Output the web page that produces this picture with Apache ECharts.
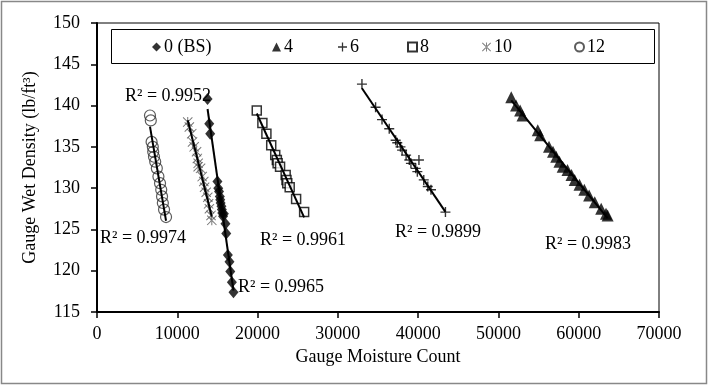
<!DOCTYPE html>
<html>
<head>
<meta charset="utf-8">
<script src="https://cdn.jsdelivr.net/npm/echarts@6/dist/echarts.min.js"></script>
<style>
  html, body { margin: 0; padding: 0; background: #fff; }
  #chart { width: 708px; height: 385px; }
</style>
</head>
<body>
<div id="chart"></div>
<script>
// moisture count (x) and wet density (y) per series
const bsX = [13.77, 13.98, 14.1, 15.0, 15.1, 15.2, 15.3, 15.35, 15.4, 15.5, 15.55, 15.6, 15.7, 15.8, 16.0, 16.1, 16.3, 16.5, 16.6, 16.8, 17.0].map(v => v * 1000)
const bsY = [140.8, 137.8, 136.6, 130.8, 130.0, 129.6, 129.0, 128.6, 128.2, 127.8, 127.4, 127.0, 126.6, 126.9, 125.7, 124.5, 121.9, 121.1, 119.9, 118.6, 117.4]

const s4X = [51.6, 52.2, 52.7, 53.0, 54.9, 55.2, 56.3, 56.8, 57.2, 57.6, 58.0, 58.6, 59.1, 59.5, 60.1, 60.7, 61.3, 62.0, 62.8, 63.4, 63.6].map(v => v * 1000)
const s4Y = [141.0, 140.0, 139.4, 138.8, 137.0, 136.4, 135.0, 134.4, 133.8, 133.2, 132.6, 132.2, 131.6, 131.0, 130.4, 129.8, 129.1, 128.3, 127.5, 126.9, 126.7]

const s6X = [33.0, 34.7, 35.5, 36.4, 37.2, 37.4, 37.8, 38.0, 38.5, 38.9, 39.1, 40.1, 39.7, 39.9, 40.7, 41.2, 41.6, 43.4].map(v => v * 1000)
const s6Y = [142.6, 139.8, 138.3, 137.2, 135.8, 135.5, 135.0, 134.6, 134.0, 133.4, 133.0, 133.4, 132.4, 132.0, 131.0, 130.2, 129.8, 127.1]

const s8X = [19.9, 20.6, 21.1, 21.7, 22.2, 22.4, 22.5, 22.8, 23.5, 23.6, 23.7, 24.0, 24.8, 25.8].map(v => v * 1000)
const s8Y = [139.4, 137.9, 136.6, 135.2, 134.0, 133.4, 133.0, 132.6, 131.6, 131.0, 130.6, 130.1, 128.7, 127.1]

const s10X = [11.3, 11.5, 11.8, 11.9, 12.1, 12.4, 12.5, 12.6, 12.9, 12.6, 13.1, 13.3, 13.4, 13.6, 13.8, 13.9, 14.0, 14.2, 14.3].map(v => v * 1000)
const s10Y = [138.0, 137.4, 136.6, 135.6, 135.0, 134.4, 133.6, 133.0, 132.4, 132.6, 131.4, 130.8, 130.1, 129.5, 128.9, 128.1, 127.5, 126.7, 126.1]

const s12X = [6.6, 6.7, 6.8, 6.95, 7.0, 7.1, 7.25, 7.45, 7.65, 7.85, 8.0, 8.1, 8.2, 8.35, 8.6].map(v => v * 1000)
const s12Y = [138.8, 138.2, 135.6, 135.0, 134.4, 133.8, 133.2, 132.4, 131.4, 130.6, 129.8, 129.0, 128.2, 127.4, 126.5]

const seriesNames = ['0 (BS)', '4', '6', '8', '10', '12']
const r2Labels = ['R\u00b2 = 0.9952', 'R\u00b2 = 0.9983', 'R\u00b2 = 0.9899', 'R\u00b2 = 0.9961', 'R\u00b2 = 0.9974', 'R\u00b2 = 0.9965']

const FONT = '"Liberation Serif", "Times New Roman", serif'

const plusPath = 'path://M4.3,0H5.7V10H4.3Z M0,4.3H10V5.7H0Z'
const starPath = 'path://M4.5,0H5.5V10H4.5Z M0,0.7L0.7,0L10,9.3L9.3,10Z M10,0.7L9.3,0L0,9.3L0.7,10Z'

function zip(xs, ys) {
  return xs.map((x, i) => [x, ys[i]])
}

// least-squares trendline from min x to max x, like the spreadsheet does
function trend(xs, ys) {
  const n = xs.length
  const mx = xs.reduce((a, b) => a + b, 0) / n
  const my = ys.reduce((a, b) => a + b, 0) / n
  let sxy = 0
  let sxx = 0
  for (let i = 0; i < n; i++) {
    sxy += (xs[i] - mx) * (ys[i] - my)
    sxx += (xs[i] - mx) * (xs[i] - mx)
  }
  const b = sxy / sxx
  const a = my - b * mx
  const x0 = Math.min(...xs)
  const x1 = Math.max(...xs)
  return [[x0, a + b * x0], [x1, a + b * x1]]
}

const groups = [
  { name: seriesNames[0], xs: bsX, ys: bsY, symbol: 'diamond', size: [10, 12], style: { color: '#000' } },
  { name: seriesNames[1], xs: s4X, ys: s4Y, symbol: 'triangle', size: 12, style: { color: '#000' } },
  { name: seriesNames[2], xs: s6X, ys: s6Y, symbol: plusPath, size: 10, style: { color: '#000' } },
  { name: seriesNames[3], xs: s8X, ys: s8Y, symbol: 'rect', size: 9, style: { color: '#fff', borderColor: '#000', borderWidth: 1.5 } },
  { name: seriesNames[4], xs: s10X, ys: s10Y, symbol: starPath, size: 10, style: { color: '#555' } },
  { name: seriesNames[5], xs: s12X, ys: s12Y, symbol: 'circle', size: 11, style: { color: 'rgba(255,255,255,0)', borderColor: '#333', borderWidth: 1.2 } }
]

const series = []
groups.forEach(function(g) {
  series.push({
    name: g.name,
    type: 'scatter',
    symbol: g.symbol,
    symbolSize: g.size,
    itemStyle: g.style,
    data: zip(g.xs, g.ys),
    z: 3
  })
  series.push({
    type: 'line',
    data: trend(g.xs, g.ys),
    symbol: 'none',
    lineStyle: { color: '#000', width: 2 },
    silent: true,
    z: 4
  })
})

// legend item left edges (pixels), one legend per entry
const legendLeft = [152, 272, 338, 407, 482, 574]
const legends = seriesNames.map(function(n, i) {
  return {
    data: [n],
    left: legendLeft[i],
    top: 38,
    padding: 0,
    itemWidth: 9,
    itemHeight: 9,
    itemGap: 0,
    textStyle: { fontFamily: FONT, fontSize: 18, color: '#000', padding: [0, 0, 0, -2] }
  }
})

// R² text positions (pixels)
const r2Pos = [[125, 96], [545, 244], [395, 232], [260, 240], [100, 238], [238, 287]]

const chart = echarts.init(document.getElementById('chart'))
chart.setOption({
  animation: false,
  textStyle: { fontFamily: FONT },
  grid: { left: 97, right: 49, top: 23, bottom: 73, show: true, borderColor: '#000', borderWidth: 1 },
  legend: legends,
  xAxis: {
    type: 'value',
    min: 0,
    max: 70000,
    interval: 10000,
    name: 'Gauge Moisture Count',
    nameLocation: 'middle',
    nameGap: 36,
    nameTextStyle: { fontFamily: FONT, fontSize: 18, color: '#000' },
    splitLine: { show: false },
    axisLine: { lineStyle: { color: '#000', width: 2 } },
    axisTick: { show: true, length: 6, lineStyle: { color: '#000', width: 1.5 } },
    axisLabel: { fontFamily: FONT, fontSize: 18, color: '#000', margin: 13, formatter: v => String(v) }
  },
  yAxis: {
    type: 'value',
    min: 115,
    max: 150,
    interval: 5,
    name: 'Gauge Wet Density (lb/ft\u00b3)',
    nameLocation: 'middle',
    nameGap: 58,
    nameTextStyle: { fontFamily: FONT, fontSize: 18, color: '#000' },
    splitLine: { show: false },
    axisLine: { show: true, lineStyle: { color: '#000', width: 2 } },
    axisTick: { show: true, length: 6, lineStyle: { color: '#000', width: 1.5 } },
    axisLabel: { fontFamily: FONT, fontSize: 18, color: '#000', margin: 17 }
  },
  graphic: [
    {
      type: 'rect',
      z: -1,
      shape: { x: 1.5, y: 1.5, width: 705, height: 382 },
      style: { fill: 'none', stroke: '#888', lineWidth: 1.5 }
    },
    {
      type: 'rect',
      z: 0,
      shape: { x: 111.5, y: 29.5, width: 543, height: 34 },
      style: { fill: 'none', stroke: '#000', lineWidth: 1 }
    }
  ].concat(r2Labels.map(function(t, i) {
    return {
      type: 'text',
      z: 0,
      x: r2Pos[i][0],
      y: r2Pos[i][1],
      style: { text: t, font: '18px ' + FONT, fill: '#000', textVerticalAlign: 'middle' }
    }
  })),
  series: series
})
</script>
</body>
</html>
